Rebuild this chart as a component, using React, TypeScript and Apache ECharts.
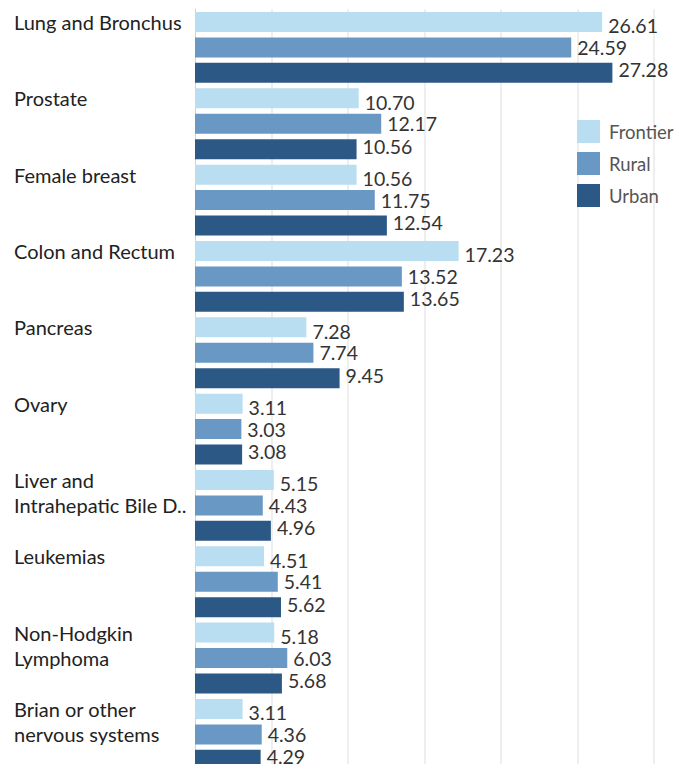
import React, { useEffect, useRef } from "react";
import * as echarts from "echarts";

const categories = [
  "Lung and Bronchus",
  "Prostate",
  "Female breast",
  "Colon and Rectum",
  "Pancreas",
  "Ovary",
  "Liver and\nIntrahepatic Bile D..",
  "Leukemias",
  "Non-Hodgkin\nLymphoma",
  "Brian or other\nnervous systems",
];
const seriesNames = ["Frontier", "Rural", "Urban"];
const frontier = [26.61, 10.7, 10.56, 17.23, 7.28, 3.11, 5.15, 4.51, 5.18, 3.11];
const rural = [24.59, 12.17, 11.75, 13.52, 7.74, 3.03, 4.43, 5.41, 6.03, 4.36];
const urban = [27.28, 10.56, 12.54, 13.65, 9.45, 3.08, 4.96, 5.62, 5.68, 4.29];

const colors = ["#b9ddf1", "#6898c3", "#2c5886"];
const labelOffsets = [4, 0, -3];

export default function App() {
  const ref = useRef<HTMLDivElement>(null);
  useEffect(() => {
    if (!ref.current) return;
    const chart = echarts.init(ref.current, undefined, { renderer: "svg" });
    const values = [frontier, rural, urban];
    const pxPerUnit = 15.3;
    chart.setOption({
      animation: false,
      backgroundColor: "#ffffff",
      textStyle: { fontFamily: "Lato" },
      grid: {
        left: 195,
        top: 9.25,
        width: 35 * pxPerUnit,
        height: 763.3,
        containLabel: false,
        outerBoundsMode: "none",
      },
      legend: {
        orient: "vertical",
        left: 577,
        top: 120,
        padding: 0,
        itemWidth: 23,
        itemHeight: 23,
        itemGap: 9,
        icon: "rect",
        data: seriesNames,
        textStyle: {
          fontFamily: "Lato",
          fontSize: 18.5,
          color: "#555555",
          padding: [0, 0, 0, 4],
        },
      },
      xAxis: {
        type: "value",
        min: 0,
        max: 35,
        interval: 5,
        axisLabel: { show: false },
        axisTick: { show: false },
        axisLine: { show: false },
        splitLine: {
          show: true,
          showMinLine: false,
          lineStyle: { color: "#e9e9e9", width: 1.5 },
        },
      },
      yAxis: {
        type: "category",
        inverse: true,
        data: categories,
        axisTick: { show: false },
        axisLine: {
          show: true,
          lineStyle: { color: "#c8c8c8", type: "dotted", width: 1 },
        },
        axisLabel: {
          interval: 0,
          align: "left",
          margin: 181,
          fontFamily: "Lato",
          fontSize: 20,
          color: "#222222",
          lineHeight: 25.4,
          formatter: (v: string) => {
            const lines = v.split("\n");
            while (lines.length < 3) lines.push(" ");
            return lines.join("\n");
          },
        },
      },
      series: seriesNames.map((name, i) => ({
        name,
        type: "bar",
        data: values[i],
        barWidth: 20,
        barGap: "27.2%",
        itemStyle: { color: colors[i] },
        label: {
          show: true,
          position: "right",
          distance: 6,
          offset: [0, labelOffsets[i]],
          fontFamily: "Lato",
          fontSize: 19.5,
          color: "#333333",
          formatter: (p: any) => Number(p.value).toFixed(2),
        },
      })),
    });
    return () => chart.dispose();
  }, []);
  return (
    <div
      style={{
        position: "fixed",
        left: 0,
        top: 0,
        width: 682,
        height: 764,
        overflow: "hidden",
        background: "#fff",
      }}
    >
      <div ref={ref} style={{ width: 760, height: 790 }} />
    </div>
  );
}
